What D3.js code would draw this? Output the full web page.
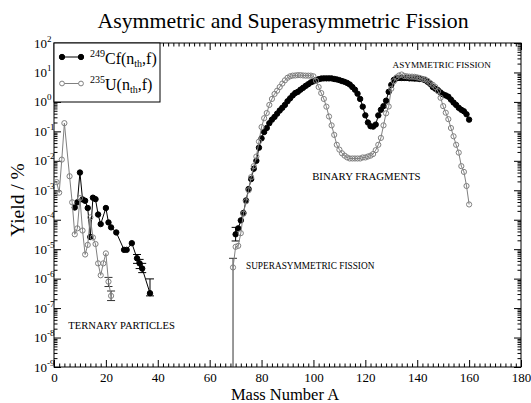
<!DOCTYPE html>
<html>
<head>
<meta charset="utf-8">
<script src="https://cdn.jsdelivr.net/npm/d3@7"></script>
<style>
body { margin: 0; background: #fff; }
text { font-family: "Liberation Serif", "Times New Roman", serif; fill: #000; }
</style>
</head>
<body>
<svg id="chart" width="531" height="403"></svg>
<script>
// ternary particles, [mass number, yield %]
var cfTernary = [[8,2.6e-4],[9,3.9e-4],[10,4.0e-3],[11,4.9e-4],[12,4.4e-4],[13,2.5e-4],[14,2.6e-5],
  [15,5.6e-4],[16,5.0e-4],[17,1.5e-4],[18,7.1e-5],[20,2.5e-4],[21,8.1e-5],[22,5.5e-5],[24,3.7e-5],
  [27,9.5e-6],[28,9.5e-6],[30,1.6e-5],[32,4.9e-6],[33,3.3e-6],[34,2.2e-6],[37,3.2e-7]];
var uTernary = [[1,1.9e-3],[2,8.3e-4],[3,1.1e-2],[4,0.19],[6,3.0e-3],[7,3.9e-4],[8,3.2e-5],[9,5.1e-5],
  [10,5.4e-4],[11,4.3e-5],[12,6.6e-6],[13,1.4e-5],[14,1.2e-4],[15,2.5e-5],[16,1.5e-5],[17,3.3e-6],
  [18,1.3e-6],[19,3.3e-6],[20,7.2e-6],[21,7.9e-7],[22,2.6e-7]];

// binary fragments, yields % for consecutive mass numbers
var cfBinaryStart = 70;
var cfBinary = [3.2e-5, 5.1e-5, 9.5e-5, 1.7e-4, 4.5e-4, 1.1e-3, 2.4e-3, 5.4e-3, 1.0e-2, 2.8e-2,
  0.058, 0.095, 0.13, 0.19, 0.25, 0.31, 0.40, 0.51, 0.63, 0.79,
  1.05, 1.32, 1.66, 2.0, 2.2, 2.6, 3.0, 3.5, 4.0, 4.6,
  5.0, 5.5, 5.9, 6.2, 6.3, 6.3, 6.3, 6.3, 6.0, 5.8,
  5.5, 5.1, 4.8, 4.4, 3.9, 3.2, 2.6, 1.9, 1.26, 0.69,
  0.35, 0.20, 0.15, 0.145, 0.17, 0.35, 0.54, 0.72, 1.1, 2.2,
  3.8, 5.6, 6.3, 6.5, 6.5, 6.5, 6.5, 6.3, 6.3, 6.2,
  6.2, 6.0, 5.9, 5.5, 4.8, 4.1, 3.2, 2.8, 2.5, 2.1,
  1.8, 1.66, 1.5, 1.2, 0.95, 0.79, 0.63, 0.54, 0.48, 0.38,
  0.25];
var uBinaryStart = 69;
var uBinary = [2.4e-6, 1.2e-5, 1.3e-5, 3.5e-5, 1.6e-4, 4.2e-4, 1.0e-3, 2.8e-3, 6.6e-3, 1.4e-2,
  0.045, 0.14, 0.28, 0.42, 0.79, 1.26, 1.86, 2.4, 3.2, 4.2,
  5.4, 6.6, 7.4, 7.8, 7.9, 8.1, 8.1, 7.9, 7.8, 7.8,
  7.8, 7.4, 5.2, 3.2, 2.0, 1.26, 0.69, 0.32, 0.16, 0.076,
  0.035, 0.024, 0.018, 0.015, 0.013, 0.012, 0.012, 0.012, 0.012, 0.012,
  0.013, 0.013, 0.014, 0.015, 0.017, 0.023, 0.035, 0.060, 0.16, 0.41,
  0.70, 2.8, 5.0, 6.8, 7.9, 8.5, 7.6, 7.4, 7.2, 7.2,
  7.1, 6.8, 6.5, 6.0, 5.8, 5.2, 4.4, 3.8, 3.2, 2.3,
  1.38, 0.72, 0.43, 0.26, 0.13, 0.068, 0.035, 0.019, 6.6e-3, 4.2e-3,
  1.4e-3, 3.3e-4];

// error bars [mass number, upper, lower]
var cfErrors = [[32,6.6e-6,3.3e-6],[33,4.5e-6,2.2e-6],[34,3.3e-6,1.6e-6],[37,9.8e-7,2.6e-7],[70,5.5e-5,1.9e-5]];
var uErrors = [[21,1.1e-6,5.4e-7],[22,3.8e-7,1.8e-7],[69,4.9e-6,1e-9]];

var xTicks = [0,20,40,60,80,100,120,140,160,180];
var yDecades = [-9,-8,-7,-6,-5,-4,-3,-2,-1,0,1,2];

var labels = [
  {t:'TERNARY PARTICLES', a:5.5, y:2e-8, s:10.6},
  {t:'SUPERASYMMETRIC FISSION', a:74, y:2.2e-6, s:9.3},
  {t:'BINARY FRAGMENTS', a:99.5, y:2.3e-3, s:10.8},
  {t:'ASYMMETRIC FISSION', a:130.5, y:14, s:9.2}
];

var W = 531, H = 403;
var L = 54, R = 521, T = 43, B = 367;

var svg = d3.select('#chart');
var x = d3.scaleLinear().domain([0,180]).range([L,R]);
var y = d3.scaleLog().domain([1e-9,100]).range([B,T]);

svg.append('text')
  .attr('x', 283).attr('y', 28)
  .attr('text-anchor','middle')
  .style('font-size','21.8px')
  .text('Asymmetric and Superasymmetric Fission');

// axes, ticks point inward
var minorX = d3.range(0,181,2).filter(function(d){ return d % 20 != 0; });
var minorY = [];
yDecades.slice(0,-1).forEach(function(e){
  for (var k = 2; k < 10; k++) minorY.push(k * Math.pow(10,e));
});
var majorY = yDecades.map(function(e){ return Math.pow(10,e); });

function ax(gen, tr, vals, size, fmt) {
  var g = svg.append('g').attr('transform', tr)
    .call(gen.tickValues(vals).tickSize(-size).tickSizeOuter(0).tickPadding(5.5).tickFormat(fmt));
  g.select('.domain').remove();
  g.selectAll('line').attr('stroke','#000');
  return g;
}
var none = function(){ return ''; };
var gx = ax(d3.axisBottom(x), 'translate(0,'+B+')', xTicks, 7, d3.format('d'));
gx.selectAll('text').style('font-size','13px').attr('fill','#000');
ax(d3.axisBottom(x), 'translate(0,'+B+')', minorX, 3.5, none);
ax(d3.axisTop(x), 'translate(0,'+T+')', xTicks, 7, none);
ax(d3.axisTop(x), 'translate(0,'+T+')', minorX, 3.5, none);
ax(d3.axisLeft(y), 'translate('+L+',0)', majorY, 7, none);
ax(d3.axisLeft(y), 'translate('+L+',0)', minorY, 3.5, none);
ax(d3.axisRight(y), 'translate('+R+',0)', majorY, 7, none);
ax(d3.axisRight(y), 'translate('+R+',0)', minorY, 3.5, none);

svg.append('rect')
  .attr('x',L).attr('y',T).attr('width',R-L).attr('height',B-T)
  .attr('fill','none').attr('stroke','#000');

var yl = svg.append('g').selectAll('text').data(yDecades).enter().append('text')
  .attr('x', 34).attr('y', function(d){ return y(Math.pow(10,d)) + 4.5; })
  .style('font-size','13px');
yl.append('tspan').text('10');
yl.append('tspan').attr('dy',-6).style('font-size','9px').text(function(d){ return d; });

svg.append('text')
  .attr('x', 285).attr('y', 399.5)
  .attr('text-anchor','middle')
  .style('font-size','16.5px')
  .text('Mass Number A');
svg.append('text')
  .attr('transform','translate(24,200) rotate(-90)')
  .attr('text-anchor','middle')
  .style('font-size','19.5px')
  .text('Yield / %');

svg.append('g').selectAll('text').data(labels).enter().append('text')
  .attr('x', function(d){ return x(d.a); })
  .attr('y', function(d){ return y(d.y); })
  .style('font-size', function(d){ return d.s + 'px'; })
  .text(function(d){ return d.t; });

var line = d3.line().x(function(d){ return x(d[0]); }).y(function(d){ return y(d[1]); });
var plot = svg.append('g');

function errBars(data, color) {
  var g = plot.append('g').attr('stroke', color).attr('fill','none');
  data.forEach(function(d){
    var cx = x(d[0]);
    g.append('line').attr('x1',cx).attr('x2',cx).attr('y1',y(d[1])).attr('y2',y(d[2]));
    g.append('line').attr('x1',cx-4).attr('x2',cx+4).attr('y1',y(d[1])).attr('y2',y(d[1]));
    if (d[2] > 1e-9)
      g.append('line').attr('x1',cx-4).attr('x2',cx+4).attr('y1',y(d[2])).attr('y2',y(d[2]));
  });
}

function series(pts, filled) {
  var col = filled ? '#000' : '#808080';
  plot.append('path').attr('d', line(pts)).attr('fill','none').attr('stroke', col).attr('stroke-width',1);
  plot.append('g').selectAll('circle').data(pts).enter().append('circle')
    .attr('cx', function(d){ return x(d[0]); })
    .attr('cy', function(d){ return y(d[1]); })
    .attr('r', filled ? 2.7 : 2.6)
    .attr('fill', filled ? '#000' : 'none')
    .attr('stroke', col).attr('stroke-width', 1);
}

var cfBin = cfBinary.map(function(v,i){ return [cfBinaryStart + i, v]; });
var uBin = uBinary.map(function(v,i){ return [uBinaryStart + i, v]; });

errBars(cfErrors, '#000');
errBars(uErrors, '#333');
series(cfTernary, true);
series(cfBin, true);
series(uTernary, false);
series(uBin, false);

// legend
var lg = svg.append('g');
lg.append('rect').attr('x',L).attr('y',T).attr('width',106).attr('height',59)
  .attr('fill','#fff').attr('stroke','#000');
[{f:true, y:57, sup:'249', el:'Cf'}, {f:false, y:83.5, sup:'235', el:'U'}].forEach(function(d){
  var col = d.f ? '#000' : '#808080';
  lg.append('line').attr('x1',62).attr('x2',81).attr('y1',d.y).attr('y2',d.y).attr('stroke',col);
  [62,81].forEach(function(cx){
    lg.append('circle').attr('cx',cx).attr('cy',d.y).attr('r', d.f ? 2.7 : 2.4)
      .attr('fill', d.f ? '#000' : '#fff').attr('stroke',col);
  });
  var t = lg.append('text').attr('x',90).attr('y',d.y+6.5).style('font-size','16px');
  t.append('tspan').attr('dy',-7).style('font-size','10px').text(d.sup);
  t.append('tspan').attr('dy',7).text(d.el + '(n');
  t.append('tspan').attr('dy',3).style('font-size','10px').text('th');
  t.append('tspan').attr('dy',-3).text(',f)');
});
</script>
</body>
</html>
